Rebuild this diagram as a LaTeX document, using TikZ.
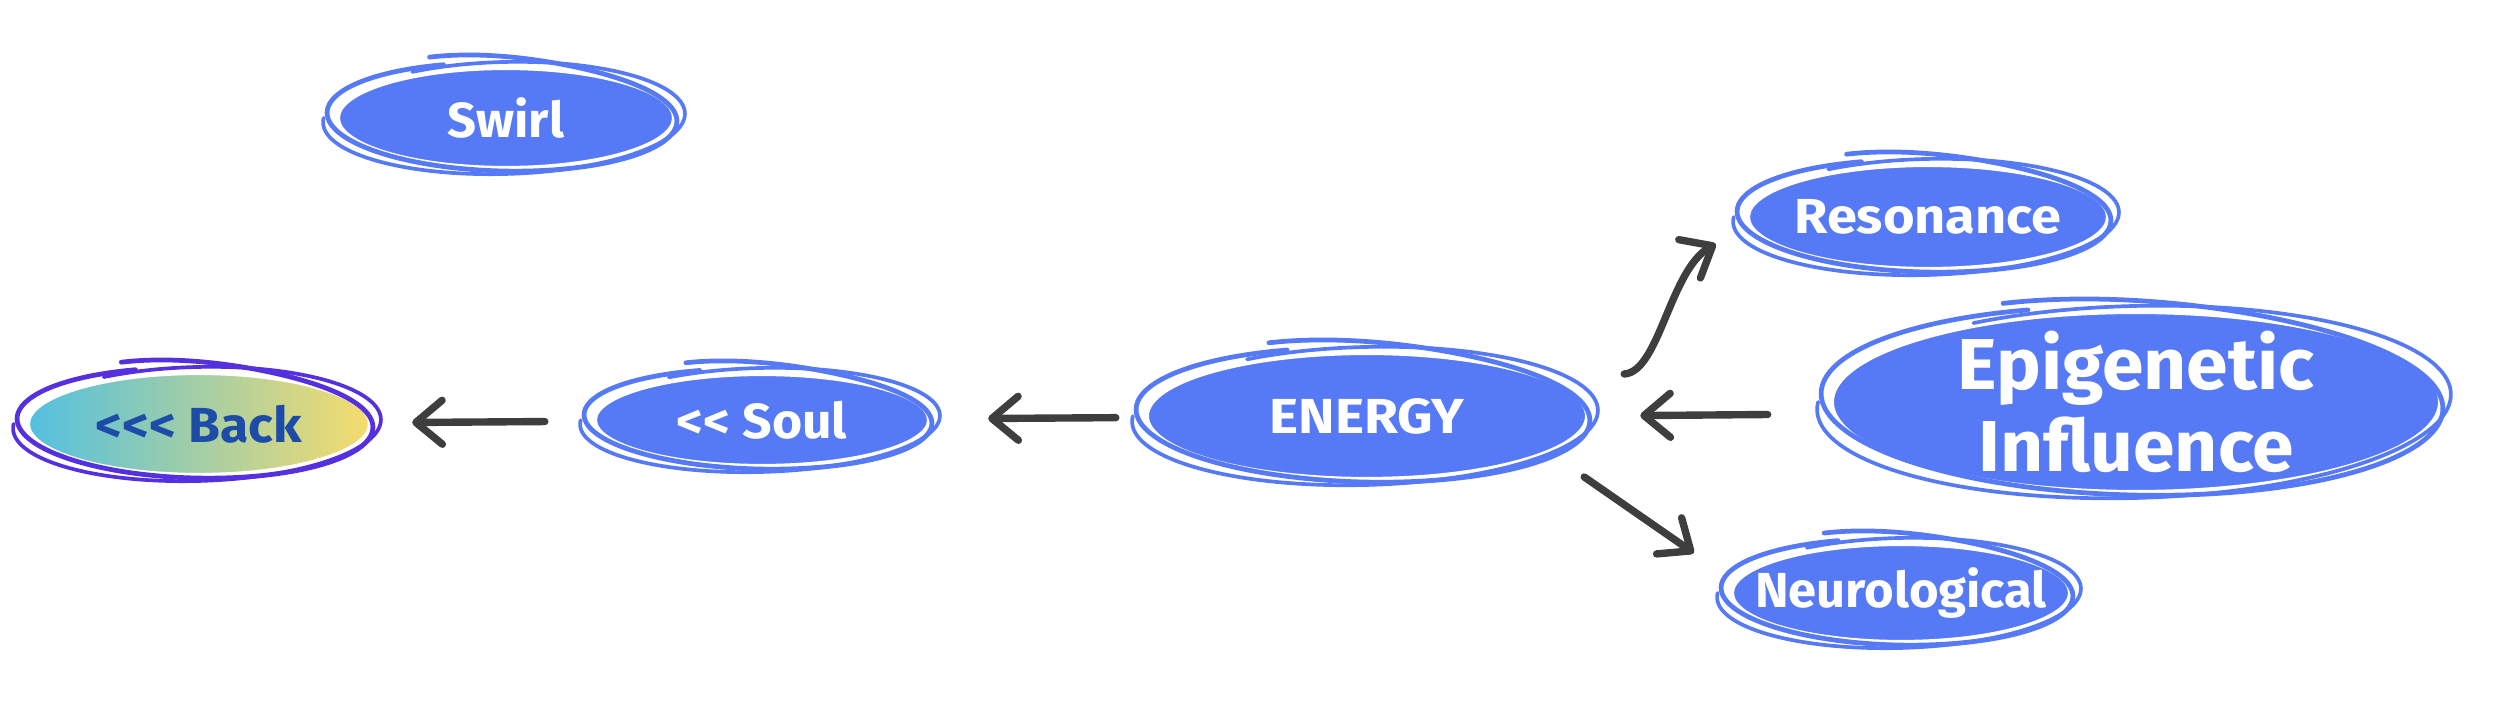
\documentclass[tikz,border=0pt]{standalone}
\usepackage{fontspec}
\setmainfont{Fira Sans}
\usetikzlibrary{shapes.geometric,arrows.meta,calc}
\definecolor{bub}{HTML}{5679F6}
\definecolor{arrgray}{HTML}{3E3E3E}
\definecolor{backL}{HTML}{52C0E0}
\definecolor{backR}{HTML}{F6DC6C}
\definecolor{backStroke}{HTML}{5530DE}
\definecolor{backText}{HTML}{1C4BA8}
\newcommand\hsq[2]{\scalebox{#1}[1]{#2}}
% hand-drawn double loop round a node: #1 node, #2 rx, #3 ry, #4 colour
\newcommand\ringsk[4]{%
  \draw[#4, line width=1.35pt, line cap=round, line join=round,
        shift={(#1.center)}, shift={(-4,1)}, rotate=-1.5]
    plot[smooth, domain=115:-250, samples=110, variable=\t]
    ({(#2+7)*cos(\t)}, {(#3+4)*sin(\t)+9*exp(-((115-\t)/45)^2)});
  \draw[#4, line width=1.05pt, line cap=round, line join=round,
        shift={(#1.center)}, shift={(-2,0)}, rotate=1.5]
    plot[smooth, domain=-240:-545, samples=110, variable=\t]
    ({(#2+13)*cos(\t)}, {(#3+6)*sin(\t)});
}
\tikzset{
  bubble/.style={ellipse, fill=bub, draw=white, line width=1.2pt, inner sep=0pt},
  btext/.style={text=white, font=\fontsize{14}{16}\selectfont\bfseries, inner sep=0pt},
  arr/.style={draw=arrgray, line width=2.1pt, line cap=round,
    -{Straight Barb[length=7.5pt,width=12.5pt,round]}},
}
\begin{document}
\begin{tikzpicture}[x=0.01cm,y=0.01cm]
\useasboundingbox (0,0) rectangle (2502,706);
% nodes
\node[bubble, minimum width=3.36cm, minimum height=1.00cm] (swirl) at (506,588) {};
\node[bubble, minimum width=3.42cm, minimum height=1.02cm, left color=backL, right color=backR] (back) at (199,282) {};
\node[bubble, minimum width=3.34cm, minimum height=0.92cm] (soul) at (762,286) {};
\node[bubble, minimum width=4.40cm, minimum height=1.26cm] (energy) at (1367,290) {};
\node[bubble, minimum width=3.60cm, minimum height=1.04cm] (res) at (1928,489) {};
\node[bubble, minimum width=6.08cm, minimum height=1.80cm] (epi) at (2136,304) {};
\node[bubble, minimum width=3.38cm, minimum height=0.98cm] (neuro) at (1901,113) {};
% sketch rings
\ringsk{swirl}{168}{50}{bub}
\ringsk{back}{171}{51}{backStroke}
\ringsk{soul}{167}{46}{bub}
\ringsk{energy}{220}{63}{bub}
\ringsk{res}{180}{52}{bub}
\ringsk{epi}{304}{90}{bub}
\ringsk{neuro}{169}{49}{bub}
% texts
\node[btext] (tswirl) at (swirl) {\hsq{1.03}{Swirl}};
\node[btext, text=backText] (tback) at (back) {\hsq{1.05}{<\kern0pt<\kern0pt< Back}};
\node[btext] (tsoul) at (soul) {\hsq{1.05}{<\kern0pt< Soul}};
\node[btext] (tenergy) at (energy) {\hsq{1.12}{ENERGY}};
\node[btext] (tres) at (res) {\hsq{1.10}{Resonance}};
\node[btext, align=center, font=\fontsize{20.5}{23.5}\selectfont\bfseries] (tepi) at (epi) {\hsq{1.04}{Epigenetic}\\\hsq{1.04}{Influence}};
\node[btext] (tneuro) at (neuro) {\hsq{1.03}{Neurological}};
% connectors
\draw[arr, shorten <=0.48cm, shorten >=0.40cm] (soul) -- (back);
\draw[arr, shorten <=0.29cm, shorten >=0.57cm] (energy) -- (soul);
\draw[arr, shorten <=0.62cm, shorten >=0.51cm] ([yshift=-0.12cm]epi.west) -- (energy.east);
\draw[arr] ([shift={(35,42)}]energy.east) .. controls +(35,2) and +(-46,-26) .. ([shift={(-30,-27)}]res.west);
\draw[arr] ([shift={(-5,-61)}]energy.east) -- ([shift={(-36,40)}]neuro.west);
\end{tikzpicture}
\end{document}
